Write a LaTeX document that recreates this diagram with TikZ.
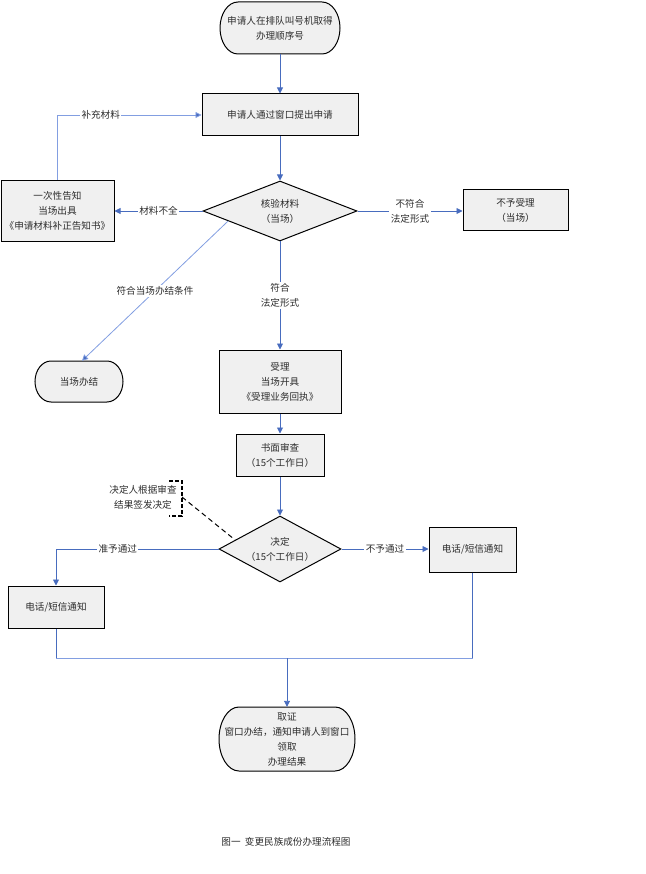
\documentclass[tikz,border=0pt]{standalone}
\usepackage{fontspec}
\setmainfont{Noto Sans CJK SC}
\usetikzlibrary{arrows.meta,shapes.geometric,calc}
\definecolor{conn}{RGB}{72,108,190}
\definecolor{connlt}{RGB}{130,158,225}
\definecolor{boxfill}{RGB}{240,240,240}
\definecolor{txt}{RGB}{45,45,45}
\begin{document}
\begin{tikzpicture}[x=1pt,y=-1pt,
  every node/.style={font=\fontsize{9.6}{15}\selectfont, text=txt},
  box/.style={draw=black, line width=1pt, fill=boxfill, align=center, inner sep=0pt},
  termtext/.style={align=center, inner sep=0pt},
  termline/.style={draw=black, line width=1pt, fill=boxfill},
  dia/.style={diamond, draw=black, line width=1pt, fill=boxfill, inner sep=0pt},
  arr/.style={draw=conn, line width=0.9pt, -{Triangle[length=6pt,width=6pt]}},
  arrlt/.style={draw=connlt, line width=0.8pt, -{Triangle[length=6pt,width=6pt,fill=conn]}},
  ln/.style={draw=conn, line width=0.9pt},
  lnlt/.style={draw=connlt, line width=0.9pt},
  lbl/.style={fill=white, inner sep=1.5pt, align=center},
  dashbr/.style={draw=black, line width=1.2pt, dash pattern=on 4pt off 2pt},
  dashln/.style={draw=black, line width=1pt, dash pattern=on 5pt off 3.5pt}]
\useasboundingbox (0,0) rectangle (645,874);

% start terminal
\path[termline] (238,2) -- (322,2) arc[start angle=-90,end angle=90,x radius=18,y radius=26]
  -- (238,54) arc[start angle=90,end angle=270,x radius=18,y radius=26] -- cycle;
\node[termtext, minimum width=120pt, minimum height=52pt] (start) at (280,28) {申请人在排队叫号机取得\\办理顺序号};

\node[box, minimum width=156pt, minimum height=42pt] (apply) at (280,115) {申请人通过窗口提出申请};

\node[dia, minimum width=154pt, minimum height=60pt] (d1) at (280,211) {};
\node[termtext] (d1t) at (d1) {核验材料\\（当场）};

\node[box, minimum width=113pt, minimum height=61pt] (notice) at (57.5,211) {一次性告知\\当场出具\\《申请材料补正告知书》};
\node[box, minimum width=105pt, minimum height=41pt] (reject) at (515.5,210) {不予受理\\（当场）};

% on-site terminal
\path[termline] (51,361) -- (107,361) arc[start angle=-90,end angle=90,x radius=16,y radius=20.5]
  -- (51,402) arc[start angle=90,end angle=270,x radius=16,y radius=20.5] -- cycle;
\node[termtext, minimum width=88pt, minimum height=41pt] (onsite) at (79,381.5) {当场办结};

\node[box, minimum width=122pt, minimum height=63pt] (accept) at (280,381.5) {受理\\当场开具\\《受理业务回执》};
\node[box, minimum width=88pt, minimum height=42pt] (review) at (280,455) {书面审查\\（15个工作日）};

\node[dia, minimum width=122pt, minimum height=66pt] (d2) at (280,549) {};
\node[termtext] (d2t) at (d2) {决定\\（15个工作日）};

\node[box, minimum width=96pt, minimum height=42pt] (telL) at (56,607) {电话/短信通知};
\node[box, minimum width=87pt, minimum height=45pt] (telR) at (472.5,549.5) {电话/短信通知};

% finish terminal
\path[termline] (239,707) -- (335,707) arc[start angle=-90,end angle=90,x radius=20,y radius=32]
  -- (239,771) arc[start angle=90,end angle=270,x radius=20,y radius=32] -- cycle;
\node[termtext, minimum width=136pt, minimum height=64pt] (finish) at (287,739) {取证\\窗口办结，通知申请人到窗口\\领取\\办理结果};

% annotation
\node[termtext] (note) at (143,497.5) {决定人根据审查\\结果签发决定};
\coordinate (b1) at (169,481);
\coordinate (b2) at (182,481);
\coordinate (b3) at (182,516);
\coordinate (b4) at (169,516);
\coordinate (bm) at (182,497);
\draw[dashbr] (b1) -- (b2) -- (b3) -- (b4);
\draw[dashln] (bm) -- ($(d2.west)!0.27!(d2.north)$);

% connectors
\draw[arr] (start.south) -- (apply.north);
\draw[arr] (apply.south) -- (d1.north);
\draw[arr] (d1.west) -- node[lbl]{材料不全} (d1.west -| notice.east);
\draw[arrlt] (notice.north) -- (notice.north |- apply.west) -- node[lbl, pos=0.3]{补充材料} (apply.west);
\draw[arr] (d1.east) -- node[lbl]{不符合\\法定形式} (d1.east -| reject.west);
\draw[arrlt] ($(d1.west)!0.33!(d1.south)$) -- node[lbl]{符合当场办结条件} ($(onsite.north)+(3,0)$);
\draw[arr] (d1.south) -- node[lbl]{符合\\法定形式} (accept.north);
\draw[arr] (accept.south) -- (review.north);
\draw[arr] (review.south) -- (d2.north);
\draw[arr] (d2.west) -- node[lbl, pos=0.62]{准予通过} (d2.west -| telL.north) -- (telL.north);
\draw[arr] (d2.east) -- node[lbl]{不予通过} (d2.east -| telR.west);

\coordinate (mL) at (56,658);
\coordinate (mR) at (472.5,658);
\coordinate (mC) at (287,658);
\draw[ln] (telL.south) -- (mL);
\draw[ln] (telR.south) -- (mR);
\draw[lnlt] (mL) -- (mR);
\draw[arr] (mC) -- (finish.north);

% caption
\node (cap) at (286,842) {图一~~变更民族成份办理流程图};
\end{tikzpicture}
\end{document}
